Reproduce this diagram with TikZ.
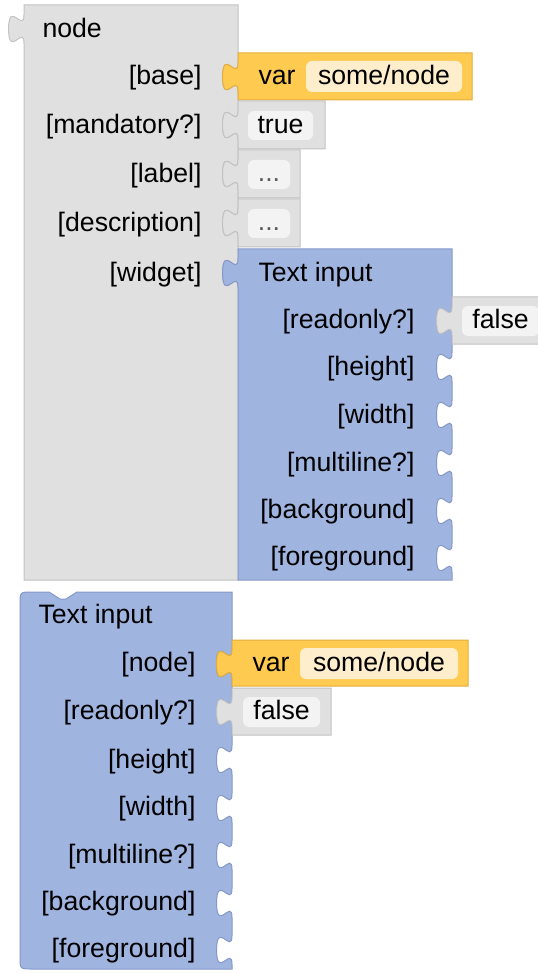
\documentclass[tikz,border=0pt]{standalone}
\usepackage{fontspec}
\setmainfont{Liberation Sans}

\definecolor{blkgrey}{HTML}{E0E0E0}
\definecolor{blkgreyedge}{HTML}{C2C2C2}
\definecolor{blkorange}{HTML}{FFCA50}
\definecolor{blkorangeedge}{HTML}{E3AD3E}
\definecolor{blkblue}{HTML}{A0B4E0}
\definecolor{blkblueedge}{HTML}{8598C8}
\definecolor{fieldgrey}{HTML}{F3F3F3}
\definecolor{fieldorange}{HTML}{FFEECB}

% puzzle tab on a vertical edge (pixel units, y going down)
\newcommand{\tabdown}{.. controls +(0,19.2) and +(0,-29.8) .. ++(-15.4,14.4) .. controls +(0,29.8) and +(0,-19.2) .. ++(15.4,14.4)}
\newcommand{\tabup}{.. controls +(0,-19.2) and +(0,29.8) .. ++(-15.4,-14.4) .. controls +(0,-29.8) and +(0,19.2) .. ++(15.4,-14.4)}

\begin{document}
\begin{tikzpicture}[x=0.75pt, y=-0.75pt, line width=0.75pt,
    every node/.style={inner sep=0pt, font=\fontsize{20}{24}\selectfont, text=black,
      text height=14pt, text depth=4pt},
    lbl/.style={anchor=east},
    head/.style={anchor=west},
    dots/.style={text=black!65}]
	% 0. Rahmen
	\clip (0,0) rectangle (538,973);
	
	% 1. Block "node"
	\filldraw[fill=blkgrey, draw=blkgreyedge] (24,5) -- (238,5)
		\foreach \t in {53,101,150,199,249} { -- (238,\t+9.6) \tabdown }
		-- (238,580) -- (24,580) -- (24,43.4) \tabup -- cycle;
	\node[head] (nodehead) at (42,30.5) {node};
	\foreach \name/\y [count=\i] in {base/78, mandatory?/126.5, label/176, description/225, widget/274.5}
		{ \node[lbl] (nodein\i) at (202,\y) {[\name]}; }
	
	% 2. eingesteckte Werte
	\filldraw[fill=blkorange, draw=blkorangeedge] (238,53) -- (238,62.6) \tabdown -- (238,100) -- (472,100) -- (472,53) -- cycle;
	\fill[fieldorange, rounded corners=4.5pt] (306,61) rectangle (462,92);
	\node[head] (var1) at (258,78) {var};
	\node (var1name) at (384,78) {some/node};
	
	\filldraw[fill=blkgrey, draw=blkgreyedge] (238,101) -- (238,110.6) \tabdown -- (238,149) -- (325,149) -- (325,101) -- cycle;
	\fill[fieldgrey, rounded corners=4.5pt] (248,111) rectangle (313,140);
	\node (true1) at (280.5,126.5) {true};
	
	\foreach \t [count=\i] in {150,199} {
		\filldraw[fill=blkgrey, draw=blkgreyedge] (238,\t) -- (238,\t+9.6) \tabdown -- (238,\t+48) -- (300,\t+48) -- (300,\t) -- cycle;
		\fill[fieldgrey, rounded corners=4.5pt] (248,\t+10) rectangle (290,\t+39);
		\node[dots] (dots\i) at (269,\t+25) {...};
	}
	
	% 3. Block "Text input" am Eingang [widget]
	\filldraw[fill=blkblue, draw=blkblueedge] (238,249) -- (452,249)
		\foreach \t in {297,343,391,439,487,534} { -- (452,\t+9.6) \tabdown }
		-- (452,580) -- (238,580) -- (238,287.4) \tabup -- cycle;
	\node[head] (texthead1) at (258,274.5) {Text input};
	\foreach \name/\y [count=\i] in {readonly?/321.5, height/369, width/416.5, multiline?/464.5, background/512, foreground/558.5}
		{ \node[lbl] (textin\i) at (415,\y) {[\name]}; }
	
	\filldraw[fill=blkgrey, draw=blkgreyedge] (452,297) -- (452,306.6) \tabdown -- (452,344) -- (550,344) -- (550,297) -- cycle;
	\fill[fieldgrey, rounded corners=4.5pt] (462,306) rectangle (539,336);
	\node (false1) at (500.5,321.5) {false};
	
	% 4. Block "Text input" allein
	\filldraw[fill=blkblue, draw=blkblueedge] (20,604) .. controls (20,592) .. (32,592)
		-- (49,592) -- (60,599) -- (66,599) -- (77,592) -- (232,592)
		\foreach \t in {640,688,736,784,831,879,926} { -- (232,\t+9.6) \tabdown }
		-- (232,969) -- (32,969) .. controls (20,969) .. (20,957) -- cycle;
	\node[head] (texthead2) at (38,617) {Text input};
	\foreach \name/\y [count=\i] in {node/664.5, readonly?/713, height/761.5, width/809, multiline?/856.5, background/904, foreground/950.5}
		{ \node[lbl] (textinb\i) at (196,\y) {[\name]}; }
	
	\filldraw[fill=blkorange, draw=blkorangeedge] (232,640) -- (232,649.6) \tabdown -- (232,686) -- (468,686) -- (468,640) -- cycle;
	\fill[fieldorange, rounded corners=4.5pt] (300,648) rectangle (458,679);
	\node[head] (var2) at (252,664.5) {var};
	\node (var2name) at (379,664.5) {some/node};
	
	\filldraw[fill=blkgrey, draw=blkgreyedge] (232,688) -- (232,697.6) \tabdown -- (232,735) -- (331,735) -- (331,688) -- cycle;
	\fill[fieldgrey, rounded corners=4.5pt] (243,697) rectangle (320,727);
	\node (false2) at (281.5,713) {false};
\end{tikzpicture}
\end{document}
